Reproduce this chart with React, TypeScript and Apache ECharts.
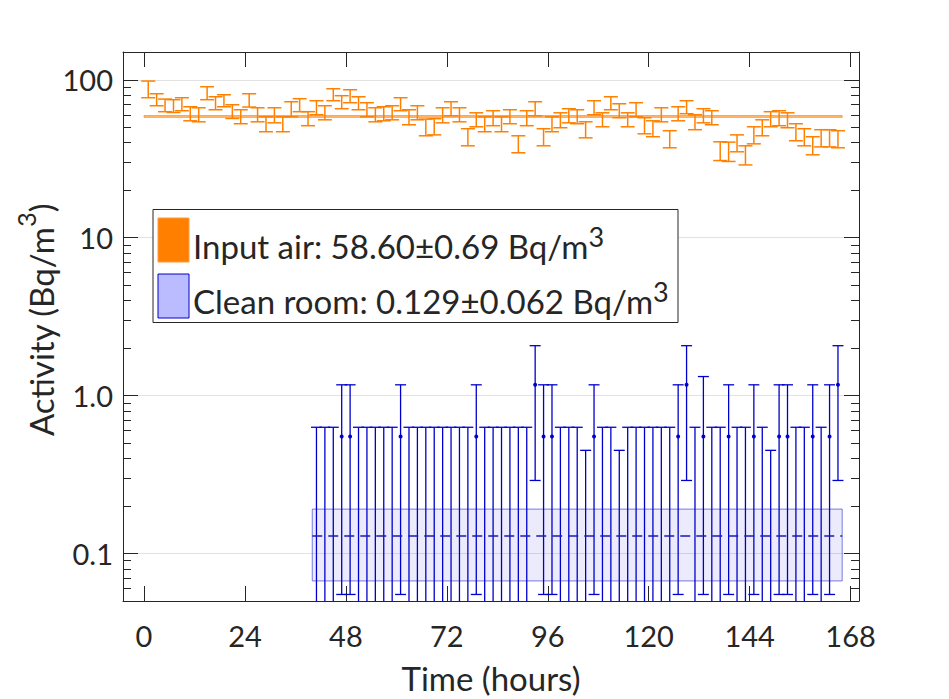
import React, { useEffect, useRef } from "react";
import * as echarts from "echarts";

// ---------- data ----------
const xTickValues = [0, 24, 48, 72, 96, 120, 144, 168];
const yMajorTicks = [0.1, 1, 10, 100];
const yMajorLabels = ["0.1", "1.0", "10", "100"];
const yMinorTicks = [
  0.05, 0.06, 0.07, 0.08, 0.09,
  0.2, 0.3, 0.4, 0.5, 0.6, 0.7, 0.8, 0.9,
  2, 3, 4, 5, 6, 7, 8, 9,
  20, 30, 40, 50, 60, 70, 80, 90,
];

// Input air (hours, error-bar lower and upper ends, Bq/m3)
const inputTimes = [
  1, 3, 5, 7, 9, 11, 13, 15, 17, 19, 21, 23, 25, 27, 29, 31, 33, 35, 37, 39,
  41, 43, 45, 47, 49, 51, 53, 55, 57, 59, 61, 63, 65, 67, 69, 71, 73, 75, 77, 79,
  81, 83, 85, 87, 89, 91, 93, 95, 97, 99, 101, 103, 105, 107, 109, 111, 113, 115, 117, 119,
  121, 123, 125, 127, 129, 131, 133, 135, 137, 139, 141, 143, 145, 147, 149, 151, 153, 155, 157, 159,
  161, 163, 165,
];
const inputHigh = [
  98.2, 81.6, 75.5, 74.8, 77.0, 67.5, 66.5, 90.4, 78.1, 80.4,
  69.5, 64.6, 81.6, 66.5, 58.3, 66.5, 58.3, 72.6, 75.9, 62.8,
  73.7, 68.5, 87.8, 79.3, 86.5, 78.1, 71.6, 66.5, 67.5, 68.5,
  77.0, 64.6, 68.5, 56.4, 56.7, 66.5, 72.6, 66.5, 49.0, 61.8,
  58.3, 63.7, 58.3, 64.6, 44.2, 63.7, 72.6, 49.0, 58.3, 61.8,
  65.6, 64.6, 54.2, 73.7, 61.8, 78.1, 70.5, 61.8, 71.6, 57.5,
  55.0, 66.5, 47.6, 67.5, 73.7, 60.1, 65.6, 63.7, 40.5, 40.3,
  44.8, 38.2, 50.4, 55.8, 62.8, 63.7, 61.8, 52.7, 49.0, 43.6,
  48.3, 48.3, 47.6,
];
const inputLow = [
  77.0, 68.5, 62.8, 62.1, 63.7, 55.0, 54.2, 74.8, 64.6, 67.5,
  56.9, 52.7, 67.2, 54.2, 46.9, 53.4, 46.9, 58.3, 62.8, 51.2,
  60.1, 55.8, 73.7, 65.6, 71.6, 64.6, 58.3, 54.2, 55.0, 55.8,
  63.7, 51.9, 55.8, 44.2, 44.8, 53.4, 59.2, 54.2, 38.2, 50.4,
  46.9, 51.2, 46.9, 52.7, 34.5, 51.2, 59.2, 38.2, 46.9, 49.7,
  53.4, 52.7, 42.9, 60.1, 50.4, 64.6, 57.5, 50.4, 58.3, 45.5,
  43.6, 54.2, 37.1, 55.0, 61.0, 48.3, 53.4, 51.9, 30.8, 30.4,
  35.0, 28.9, 39.3, 44.2, 50.4, 51.2, 49.7, 41.1, 38.2, 33.5,
  37.6, 37.6, 37.1,
];

// Clean room (null = zero measurement / lower end below the axis)
const cleanTimes = [
  41, 43, 45, 47, 49, 51, 53, 55, 57, 59, 61, 63, 65, 67, 69, 71, 73, 75, 77, 79,
  81, 83, 85, 87, 89, 91, 93, 95, 97, 99, 101, 103, 105, 107, 109, 111, 113, 115, 117, 119,
  121, 123, 125, 127, 129, 131, 133, 135, 137, 139, 141, 143, 145, 147, 149, 151, 153, 155, 157, 159,
  161, 163, 165,
];
const cleanValue = [
  null, null, null, 0.55, 0.55, null, null, null, null, null,
  0.55, null, null, null, null, null, null, null, null, 0.55,
  null, null, null, null, null, null, 1.17, 0.55, 0.55, null,
  null, null, null, 0.55, null, null, null, null, null, null,
  null, null, null, 0.55, 1.17, null, 0.55, null, null, 0.55,
  null, null, 0.55, null, null, 0.55, 0.55, null, null, 0.55,
  null, 0.55, 1.17,
];
const cleanHigh = [
  0.63, 0.63, 0.63, 1.17, 1.17, 0.63, 0.63, 0.63, 0.63, 0.63,
  1.17, 0.63, 0.63, 0.63, 0.63, 0.63, 0.63, 0.63, 0.63, 1.17,
  0.63, 0.63, 0.63, 0.63, 0.63, 0.63, 2.07, 1.17, 1.17, 0.63,
  0.63, 0.63, 0.45, 1.17, 0.63, 0.63, 0.45, 0.63, 0.63, 0.63,
  0.63, 0.63, 0.63, 1.17, 2.07, 0.63, 1.32, 0.63, 0.63, 1.17,
  0.63, 0.63, 1.17, 0.63, 0.45, 1.17, 1.17, 0.63, 0.63, 1.17,
  0.63, 1.17, 2.07,
];
const cleanLow = [
  null, null, null, 0.055, 0.055, null, null, null, null, null,
  0.055, null, null, null, null, null, null, null, null, 0.055,
  null, null, null, null, null, null, 0.29, 0.055, 0.055, null,
  null, null, null, 0.055, null, null, null, null, null, null,
  null, null, null, 0.055, 0.29, null, 0.055, null, null, 0.055,
  null, null, 0.055, null, null, 0.055, 0.055, null, null, 0.055,
  null, 0.055, 0.29,
];

// Fitted means
const inputMean = 58.6;
const inputErr = 0.69;
const inputSpan = [0, 166];
const cleanMean = 0.129;
const cleanErr = 0.062;
const cleanSpan = [40, 166];

const legendInput = "Input air: 58.60\u00b10.69 Bq/m";
const legendClean = "Clean room: 0.129\u00b10.062 Bq/m";
const xTitle = "Time (hours)";
const yTitle = "Activity (Bq/m";

// ---------- styles ----------
const AXIS = "#262626";
const ORANGE = "#FF8000";
const BLUE = "#0000CC";
const FONT = "Lato";

function makeErrorBar(color: string, capHalf: number, lineWidth: number, dotR: number) {
  return (params: any, api: any) => {
    const t = api.value(0);
    const lo = api.value(1);
    const hi = api.value(2);
    const v = api.value(3);
    const cs = params.coordSys;
    const pHi = api.coord([t, hi]);
    const x = pHi[0];
    const hasLo = isFinite(lo) && lo > 0;
    const yLo = hasLo ? api.coord([t, lo])[1] : cs.y + cs.height + 2;
    const style = { stroke: color, lineWidth };
    const children: any[] = [
      { type: "line", shape: { x1: x, y1: pHi[1], x2: x, y2: yLo }, style },
      { type: "line", shape: { x1: x - capHalf, y1: pHi[1], x2: x + capHalf, y2: pHi[1] }, style },
    ];
    if (hasLo) {
      children.push({ type: "line", shape: { x1: x - capHalf, y1: yLo, x2: x + capHalf, y2: yLo }, style });
    }
    if (dotR > 0 && isFinite(v) && v > 0) {
      const pv = api.coord([t, v]);
      children.push({ type: "circle", shape: { cx: pv[0], cy: pv[1], r: dotR }, style: { fill: color } });
    }
    return { type: "group", children };
  };
}

function makeBand(fill: string, stroke: string, meanColor: string | null) {
  return (params: any, api: any) => {
    const x0 = api.value(0);
    const x1 = api.value(1);
    const lo = api.value(2);
    const hi = api.value(3);
    const m = api.value(4);
    const p0 = api.coord([x0, hi]);
    const p1 = api.coord([x1, lo]);
    const children: any[] = [
      {
        type: "rect",
        shape: { x: p0[0], y: p0[1], width: p1[0] - p0[0], height: p1[1] - p0[1] },
        style: { fill, stroke, lineWidth: 1 },
      },
    ];
    if (meanColor) {
      const pm0 = api.coord([x0, m]);
      const pm1 = api.coord([x1, m]);
      children.push({
        type: "line",
        shape: { x1: pm0[0], y1: pm0[1], x2: pm1[0], y2: pm1[1] },
        style: { stroke: meanColor, lineWidth: 1.5, lineDash: [10, 6] },
      });
    }
    return { type: "group", children };
  };
}

const yLabelFormatter = (v: number) => {
  for (let i = 0; i < yMajorTicks.length; i++) {
    if (Math.abs(Math.log10(v) - Math.log10(yMajorTicks[i])) < 1e-6) return yMajorLabels[i];
  }
  return "";
};

const lineStyle = { color: AXIS, width: 1 };
const yBase = { type: "log", logBase: 10, min: 0.05, max: 150, gridIndex: 0 };
const xBase = { type: "value", min: -5, max: 170, gridIndex: 0 };

const richTitle = (size: number, sup: number, pad: number) => ({
  n: { fontSize: size, fontFamily: FONT, fill: AXIS, color: AXIS, verticalAlign: "bottom" },
  s: { fontSize: sup, fontFamily: FONT, fill: AXIS, color: AXIS, verticalAlign: "top", padding: [0, 0, pad, 0] },
});

const option: any = {
  animation: false,
  textStyle: { fontFamily: FONT },
  grid: { left: 123, right: 90, top: 52, bottom: 98, containLabel: false },
  xAxis: [
    {
      ...xBase,
      position: "bottom",
      axisLine: { show: true, onZero: false, lineStyle },
      axisTick: { show: true, inside: true, length: 15, customValues: xTickValues, lineStyle },
      axisLabel: { show: true, customValues: xTickValues, fontSize: 29, color: AXIS, margin: 20, fontFamily: FONT },
      splitLine: { show: false },
    },
    {
      ...xBase,
      position: "top",
      axisLine: { show: true, onZero: false, lineStyle },
      axisTick: { show: true, inside: true, length: 15, customValues: xTickValues, lineStyle },
      axisLabel: { show: false },
      splitLine: { show: false },
    },
  ],
  yAxis: [
    {
      ...yBase,
      position: "left",
      axisLine: { show: true, onZero: false, lineStyle },
      axisTick: { show: true, inside: true, length: 15, customValues: yMajorTicks, lineStyle },
      axisLabel: {
        show: true,
        customValues: yMajorTicks,
        formatter: yLabelFormatter,
        fontSize: 29,
        color: AXIS,
        margin: 10,
        fontFamily: FONT,
      },
      splitLine: { show: true, lineStyle: { color: "#e2e2e2", width: 1 } },
    },
    {
      ...yBase,
      position: "left",
      axisLine: { show: false, onZero: false },
      axisTick: { show: true, inside: true, length: 8, customValues: yMinorTicks, lineStyle },
      axisLabel: { show: false },
      splitLine: { show: false },
    },
    {
      ...yBase,
      position: "right",
      axisLine: { show: true, onZero: false, lineStyle },
      axisTick: { show: true, inside: true, length: 15, customValues: yMajorTicks, lineStyle },
      axisLabel: { show: false },
      splitLine: { show: false },
    },
    {
      ...yBase,
      position: "right",
      axisLine: { show: false, onZero: false },
      axisTick: { show: true, inside: true, length: 8, customValues: yMinorTicks, lineStyle },
      axisLabel: { show: false },
      splitLine: { show: false },
    },
  ],
  series: [
    {
      type: "custom",
      name: "Clean room band",
      xAxisIndex: 0,
      yAxisIndex: 0,
      clip: true,
      renderItem: makeBand("rgba(0,0,204,0.08)", "rgba(0,0,204,0.5)", null),
      encode: { x: [0, 1], y: [2, 3] },
      data: [[cleanSpan[0], cleanSpan[1], cleanMean - cleanErr, cleanMean + cleanErr, cleanMean]],
      z: 1,
    },
    {
      type: "custom",
      name: "Clean room",
      xAxisIndex: 0,
      yAxisIndex: 0,
      clip: true,
      renderItem: makeErrorBar(BLUE, 5.5, 1.3, 2),
      encode: { x: 0, y: [1, 2] },
      data: cleanTimes.map((t, i) => [t, cleanLow[i], cleanHigh[i], cleanValue[i]]),
      z: 2,
    },
    {
      type: "custom",
      name: "Clean room mean",
      xAxisIndex: 0,
      yAxisIndex: 0,
      clip: true,
      renderItem: (params: any, api: any) => {
        const pm0 = api.coord([api.value(0), api.value(2)]);
        const pm1 = api.coord([api.value(1), api.value(2)]);
        return {
          type: "line",
          shape: { x1: pm0[0], y1: pm0[1], x2: pm1[0], y2: pm1[1] },
          style: { stroke: "#1a1ab8", lineWidth: 1.6, lineDash: [10, 6] },
        };
      },
      encode: { x: [0, 1], y: 2 },
      data: [[cleanSpan[0], cleanSpan[1], cleanMean]],
      z: 3,
    },
    {
      type: "custom",
      name: "Input air",
      xAxisIndex: 0,
      yAxisIndex: 0,
      clip: true,
      renderItem: makeErrorBar(ORANGE, 7, 1.5, 0),
      encode: { x: 0, y: [1, 2] },
      data: inputTimes.map((t, i) => [t, inputLow[i], inputHigh[i]]),
      z: 4,
    },
    {
      type: "custom",
      name: "Input air band",
      xAxisIndex: 0,
      yAxisIndex: 0,
      clip: true,
      renderItem: makeBand("rgba(255,128,0,0.45)", "rgba(255,128,0,0.75)", null),
      encode: { x: [0, 1], y: [2, 3] },
      data: [[inputSpan[0], inputSpan[1], inputMean - inputErr, inputMean + inputErr, inputMean]],
      z: 5,
    },
  ],
  graphic: [
    {
      type: "rect",
      z: 100,
      shape: { x: 153, y: 209.5, width: 525, height: 113 },
      style: { fill: "#ffffff", stroke: AXIS, lineWidth: 1 },
    },
    {
      type: "rect",
      z: 101,
      shape: { x: 158, y: 218, width: 31, height: 44 },
      style: { fill: ORANGE, stroke: "#ff9a40", lineWidth: 1 },
    },
    {
      type: "rect",
      z: 101,
      shape: { x: 158, y: 274, width: 31, height: 44 },
      style: { fill: "#BBBBFF", stroke: BLUE, lineWidth: 1 },
    },
    {
      type: "text",
      z: 101,
      x: 193,
      y: 242.5,
      style: {
        text: `{n|${legendInput}}{s|3}`,
        rich: richTitle(33, 27, 13),
        align: "left",
        verticalAlign: "middle",
      },
    },
    {
      type: "text",
      z: 101,
      x: 193,
      y: 297.5,
      style: {
        text: `{n|${legendClean}}{s|3}`,
        rich: richTitle(33, 27, 13),
        align: "left",
        verticalAlign: "middle",
      },
    },
    {
      type: "text",
      z: 101,
      x: 491,
      y: 678,
      style: {
        text: xTitle,
        fontSize: 33,
        fontFamily: FONT,
        fill: AXIS,
        align: "center",
        verticalAlign: "middle",
      },
    },
    {
      type: "text",
      z: 101,
      x: 35,
      y: 320,
      rotation: Math.PI / 2,
      style: {
        text: `{n|${yTitle}}{s|3}{n|)}`,
        rich: richTitle(33, 25, 19),
        align: "center",
        verticalAlign: "middle",
      },
    },
  ],
};

export default function App() {
  const ref = useRef<HTMLDivElement>(null);
  useEffect(() => {
    if (!ref.current) return;
    const chart = echarts.init(ref.current, null, { renderer: "svg" });
    chart.setOption(option);
    return () => chart.dispose();
  }, []);
  return (
    <div
      ref={ref}
      style={{ position: "fixed", left: 0, top: 0, width: 949, height: 699, background: "#ffffff" }}
    />
  );
}
